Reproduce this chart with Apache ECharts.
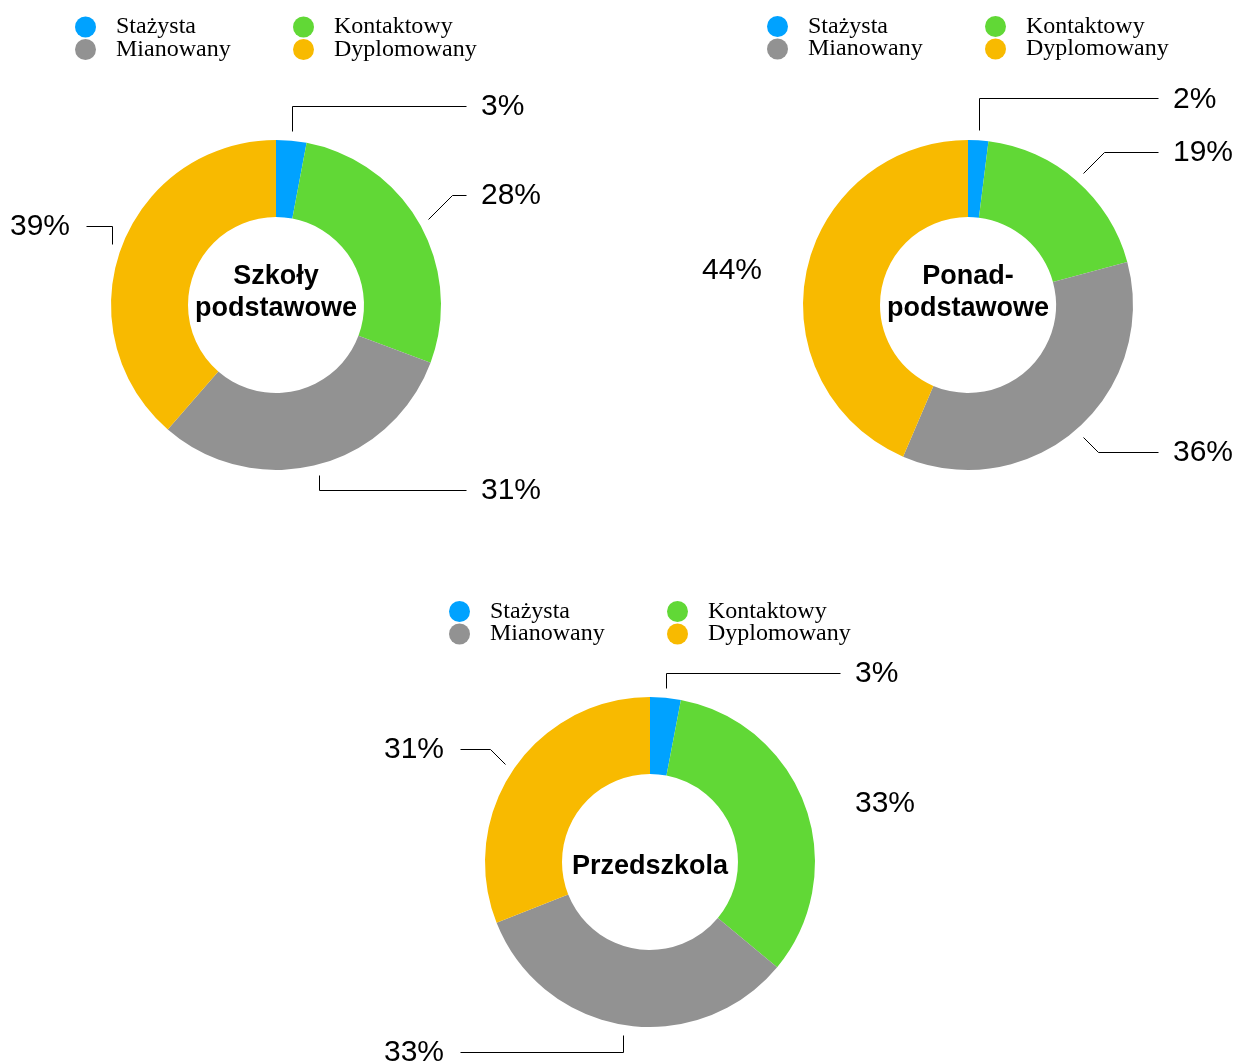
<!DOCTYPE html>
<html>
<head>
<meta charset="utf-8">
<script src="https://cdn.jsdelivr.net/npm/echarts@6/dist/echarts.min.js"></script>
<style>
  html, body { margin: 0; padding: 0; background: #fff; }
  #chart { width: 1234px; height: 1064px; }
</style>
</head>
<body>
<div id="chart"></div>
<script>
// Teacher career levels and their share in each school type (percent)
const categories = ['Stażysta', 'Kontaktowy', 'Mianowany', 'Dyplomowany'];
const szkolyPodstawowe = [3, 28, 31, 39];
const ponadpodstawowe = [2, 19, 36, 44];
const przedszkola = [3, 33, 33, 31];
const centerTitles = ['Szkoły\npodstawowe', 'Ponad-\npodstawowe', 'Przedszkola'];

const palette = ['#00A2FF', '#61D836', '#929292', '#F8BA00'];

// Placement of each donut and the shape of its leader lines:
// ['v', dy] = vertical elbow, ['d', dy] = 45° elbow, null = label without a line
const panels = [
  { values: szkolyPodstawowe, center: [276, 305], legendTop: 15, titleDy: -12,
    leaders: [['v', -25], ['d', -24], ['v', 15], ['v', -18]] },
  { values: ponadpodstawowe, center: [968, 305], legendTop: 14.5, titleDy: -12,
    leaders: [['v', -32], ['d', -21], ['d', 15], null] },
  { values: przedszkola, center: [650, 862], legendTop: 599.5, titleDy: 5,
    leaders: [['v', -15], null, ['v', 17], ['d', -15]] }
];

const INNER_R = 88, OUTER_R = 165, LEAD_R = 175;
const LINE_END = 190, TEXT_LEFT = 205, TEXT_RIGHT = 206;

function midAngle(values, idx) {
  const total = values.reduce((s, v) => s + v, 0);
  let before = 0;
  for (let k = 0; k < idx; k++) before += values[k];
  return (before + values[idx] / 2) / total * Math.PI * 2;
}

const crisp = v => Math.round(v) + 0.5;

function makeLabelLayout(panel) {
  return function (params) {
    const i = params.dataIndex;
    const [cx, cy] = panel.center;
    const a = midAngle(panel.values, i);
    const right = Math.sin(a) >= 0;
    const sx = cx + LEAD_R * Math.sin(a);
    const sy = cy - LEAD_R * Math.cos(a);
    const lead = panel.leaders[i];
    let ex = sx, ey = sy;
    if (lead) {
      ey = sy + lead[1];
      if (lead[0] === 'd') ex = sx + (right ? 1 : -1) * Math.abs(lead[1]);
    }
    const endX = cx + (right ? LINE_END : -LINE_END);
    return {
      x: cx + (right ? TEXT_LEFT : -TEXT_RIGHT),
      y: ey + 1,
      align: right ? 'left' : 'right',
      verticalAlign: 'middle',
      labelLinePoints: [
        [crisp(sx), crisp(sy)],
        [crisp(ex), crisp(ey)],
        [crisp(endX), crisp(ey)]
      ]
    };
  };
}

const legendText = {
  fontFamily: 'Liberation Serif',
  fontSize: 24,
  color: '#000',
  lineHeight: 21,
  padding: [0, 0, 0, 15]
};

const legends = [];
panels.forEach(p => {
  const cx = p.center[0];
  [[categories[0], categories[2]], [categories[1], categories[3]]].forEach((names, col) => {
    legends.push({
      data: names,
      orient: 'vertical',
      left: cx + (col === 0 ? -201 : 17),
      top: p.legendTop,
      padding: 0,
      icon: 'circle',
      itemWidth: 21,
      itemHeight: 21,
      itemGap: -1.5,
      selectedMode: false,
      textStyle: legendText
    });
  });
});

const titles = panels.map((p, k) => ({
  text: centerTitles[k],
  left: p.center[0],
  top: p.center[1] + p.titleDy,
  textAlign: 'center',
  textVerticalAlign: 'middle',
  padding: 0,
  textStyle: {
    fontFamily: 'Liberation Sans',
    fontWeight: 'bold',
    fontSize: 27,
    lineHeight: 32,
    color: '#000'
  }
}));

const series = panels.map(p => ({
  type: 'pie',
  center: p.center,
  radius: [INNER_R, OUTER_R],
  startAngle: 90,
  clockwise: true,
  avoidLabelOverlap: false,
  emphasis: { disabled: true },
  itemStyle: { borderWidth: 0 },
  label: {
    show: true,
    position: 'outside',
    formatter: '{c}%',
    fontFamily: 'Liberation Sans',
    fontSize: 30,
    color: '#000'
  },
  labelLine: {
    show: true,
    length: 10,
    length2: 10,
    smooth: false,
    lineStyle: { color: '#000', width: 1 }
  },
  labelLayout: makeLabelLayout(p),
  data: categories.map((name, i) => ({
    name: name,
    value: p.values[i],
    itemStyle: { color: palette[i] },
    labelLine: p.leaders[i] ? undefined : { show: false }
  }))
}));

const chart = echarts.init(document.getElementById('chart'), null, { renderer: 'canvas' });
chart.setOption({
  animation: false,
  backgroundColor: '#fff',
  color: palette,
  title: titles,
  legend: legends,
  series: series
});
</script>
</body>
</html>
